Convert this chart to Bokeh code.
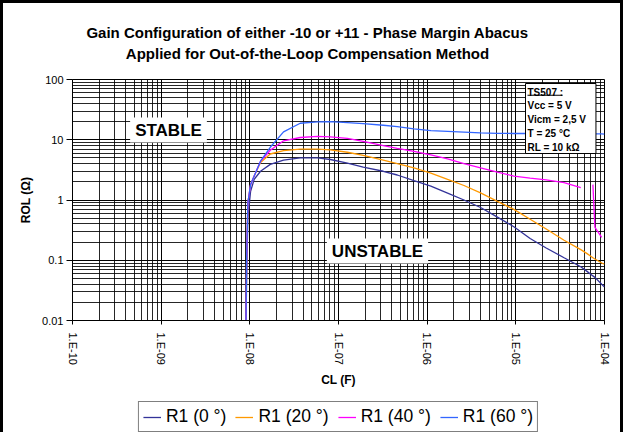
import math
from bokeh.plotting import figure
from bokeh.layouts import column
from bokeh.models import (FixedTicker, Label, Legend, LegendItem, BoxAnnotation,
                          Range1d, CustomJSTickFormatter, ColumnDataSource)
from bokeh.embed import file_html
from bokeh.resources import INLINE

# ---------------- data ----------------
title_lines = ["Gain Configuration of either -10 or +11 - Phase Margin Abacus",
               "Applied for Out-of-the-Loop Compensation Method"]
x_label = "CL (F)"
y_label = "ROL (\u03a9)"
x_ticks = [1e-10, 1e-9, 1e-8, 1e-7, 1e-6, 1e-5, 1e-4]
x_tick_labels = ["1.E-10", "1.E-09", "1.E-08", "1.E-07", "1.E-06", "1.E-05", "1.E-04"]
y_ticks = [0.01, 0.1, 1, 10, 100]
y_tick_labels = ["0.01", "0.1", "1", "10", "100"]
series_names = ["R1 (0 \u00b0)", "R1 (20 \u00b0)", "R1 (40 \u00b0)", "R1 (60 \u00b0)"]
series_colors = ["#333399", "#FF9900", "#FF00FF", "#3366FF"]
info_lines = ["TS507 :", "Vcc = 5 V", "Vicm = 2,5 V", "T = 25 \u00b0C", "RL = 10 k\u03a9"]
region_labels = ["STABLE", "UNSTABLE"]

cl = [9.0e-9, 9.2e-9, 9.5e-9, 1.02e-8, 1.12e-8, 1.32e-8, 1.7e-8, 2.4e-8, 3.7e-8,
      5.8e-8, 8.1e-8, 1.26e-7, 1.9e-7, 3.2e-7, 4.6e-7, 7.1e-7, 1.1e-6, 1.7e-6,
      2.6e-6, 4.0e-6, 6.2e-6, 9.5e-6, 1.45e-5, 2.2e-5, 3.5e-5, 5.4e-5, 6.3e-5,
      7.4e-5, 7.8e-5, 9.3e-5, 1.0e-4]
nan = float("nan")
rol_0 = [0.004, 0.05, 0.5, 1.4, 2.2, 3.0, 3.9, 4.6, 5.0, 5.0, 4.7, 4.1, 3.5, 3.0,
         2.6, 2.1, 1.7, 1.3, 1.0, 0.75, 0.52, 0.36, 0.23, 0.16, 0.11, 0.078,
         0.066, 0.055, 0.052, 0.040, 0.036]
rol_20 = [0.004, 0.1, 0.9, 1.8, 2.5, 4.2, 5.8, 6.6, 7.0, 7.0, 6.8, 6.2, 5.5, 4.6,
          4.0, 3.4, 2.8, 2.2, 1.74, 1.31, 0.95, 0.70, 0.48, 0.33, 0.215, 0.15,
          0.13, 0.11, 0.105, 0.09, 0.086]
rol_40 = [0.004, 0.1, 0.9, 1.8, 2.5, 4.4, 6.7, 9.6, 10.9, 11.4, 11.2, 10.5, 9.4,
          8.0, 7.2, 6.4, 5.6, 4.8, 4.0, 3.4, 2.9, 2.5, 2.3, 2.15, 1.95, 1.6, nan,
          1.8, 0.35, 0.24, nan]
rol_60 = [0.004, 0.1, 0.9, 1.8, 2.5, 4.4, 7.5, 13.5, 18.8, 19.8, 20.0, 19.2, 18.5,
          17.4, 16.5, 15.2, 14.2, 13.8, 13.4, 13.0, 12.8, 12.7, 12.7, 12.7, 12.6,
          12.6, 12.5, 12.5, 12.5, 12.5, 12.4]
series_values = [rol_0, rol_20, rol_40, rol_60]

FONT = "Liberation Sans"
BORDER = "3px solid black"
W = 623
BW = 3   # border width; canvases start BW px inside the left/top border

# ---------------- layout helpers (page pixel -> data of main plot) ----------------
FRAME_L, FRAME_R, FRAME_T, FRAME_B = 72, 604, 79, 320
MB_L = FRAME_L - BW          # min border left (canvas coords)
MB_R = W - (FRAME_R - BW)    # min border right
def data_x(px):
    return 10 ** (-10 + 6 * (px - FRAME_L) / (FRAME_R - FRAME_L))
def data_y(py):
    return 10 ** (-2 + 4 * (FRAME_B - py) / (FRAME_B - FRAME_T))

def bare_fig(height):
    f = figure(width=W, height=height, x_range=Range1d(0, 1), y_range=Range1d(1e3, 2e3),
               output_backend="svg", toolbar_location=None, title=None,
               x_axis_location=None, y_axis_location=None,
               min_border_left=MB_L, min_border_right=MB_R,
               min_border_top=0, min_border_bottom=0)
    f.grid.visible = False
    f.outline_line_color = None
    f.background_fill_color = "white"
    f.border_fill_color = "white"
    return f

# ---------------- title strip (page y 0..70) ----------------
TH = 70
tf = bare_fig(TH)
tf.styles = {"border-left": BORDER, "border-top": BORDER, "border-right": BORDER}
for i, t in enumerate(title_lines):
    cy = 32 + 21 * i                      # page y of line centre
    tf.add_layout(Label(x=307 - FRAME_L, y=TH + BW - cy, x_units="screen", y_units="screen",
                        text=t, text_align="center", text_baseline="middle",
                        text_font=FONT, text_font_style="bold",
                        text_font_size="15px", text_color="black"))

# ---------------- main plot (page y 70..392) ----------------
MH = 322
p = figure(width=W, height=MH, x_axis_type="log", y_axis_type="log",
           x_range=Range1d(1e-10, 1e-4), y_range=Range1d(0.01, 100),
           output_backend="svg", toolbar_location=None, title=None,
           min_border_left=MB_L, min_border_right=MB_R,
           min_border_top=FRAME_T - TH, min_border_bottom=(TH + MH) - FRAME_B)
p.styles = {"border-left": BORDER, "border-right": BORDER}
p.background_fill_color = "white"
p.border_fill_color = "white"
p.outline_line_color = "black"

x_minor = [m * 10.0 ** e for e in range(-10, -4) for m in range(2, 10)]
y_minor = [m * 10.0 ** e for e in range(-2, 2) for m in range(2, 10)]
xt = FixedTicker(ticks=x_ticks, minor_ticks=x_minor)
yt = FixedTicker(ticks=y_ticks, minor_ticks=y_minor)
p.xaxis.ticker = xt
p.yaxis.ticker = yt
p.xgrid.ticker = xt
p.ygrid.ticker = yt

fmt_code = """
let best = 0, bd = 1e9;
for (let i = 0; i < tvals.length; i++) {
  const d = Math.abs(Math.log10(tick) - Math.log10(tvals[i]));
  if (d < bd) { bd = d; best = i; }
}
return tlabels[best];
"""
p.xaxis.formatter = CustomJSTickFormatter(args=dict(tvals=x_ticks, tlabels=x_tick_labels), code=fmt_code)
p.yaxis.formatter = CustomJSTickFormatter(args=dict(tvals=y_ticks, tlabels=y_tick_labels), code=fmt_code)

for g in (p.xgrid, p.ygrid):
    g.grid_line_color = "black"
    g.grid_line_width = 1
    g.minor_grid_line_color = "black"
    g.minor_grid_line_width = 1
    g.minor_grid_line_alpha = 0.85

for ax in (p.xaxis, p.yaxis):
    ax.axis_line_color = "black"
    ax.major_tick_line_color = "black"
    ax.minor_tick_line_color = None
    ax.major_tick_in = 0
    ax.major_label_text_font = FONT
    ax.major_label_text_font_size = "11px"
    ax.major_label_text_color = "black"
    ax.axis_label_text_font = FONT
    ax.axis_label_text_font_size = "12px"
    ax.axis_label_text_font_style = "bold"
    ax.axis_label_text_color = "black"

p.xaxis.axis_label = x_label
p.yaxis.axis_label = y_label
p.xaxis.major_label_orientation = "vertical"
p.xaxis.major_tick_out = 4
p.xaxis.major_label_standoff = 8
p.xaxis.axis_label_standoff = 5
p.yaxis.major_tick_out = 6
p.yaxis.major_label_standoff = 3
p.yaxis.axis_label_standoff = 6

for vals, col in zip(series_values, series_colors):
    src = ColumnDataSource(dict(x=cl, y=vals))
    p.line("x", "y", source=src, line_color=col, line_width=1.3)

# region labels
for t, (cx, cy) in zip(region_labels, [(168, 129.5), (377, 250.5)]):
    p.add_layout(Label(x=data_x(cx), y=data_y(cy), text=t,
                       text_align="center", text_baseline="middle",
                       text_font=FONT, text_font_style="bold",
                       text_font_size="17px", text_color="black",
                       background_fill_color="white", background_fill_alpha=1,
                       padding=dict(left=5, right=5, top=3, bottom=3)))

# info box
p.add_layout(Label(x=data_x(525), y=data_y(83), text="\n".join(info_lines),
                   anchor="top_left", text_align="left", text_baseline="top",
                   text_font=FONT, text_font_style="bold", text_font_size="10px",
                   text_line_height=1.25, text_color="black",
                   background_fill_color="white", background_fill_alpha=1,
                   border_line_color="black", border_line_width=1,
                   padding=dict(left=2, right=10, top=3, bottom=1)))
p.add_layout(BoxAnnotation(left=data_x(527), right=data_x(562),
                           top=data_y(94.3), bottom=data_y(95.3),
                           fill_color="black", fill_alpha=1, line_color=None))

# ---------------- legend strip (page y 392..432) ----------------
LH = 432 - TH - MH
lf = bare_fig(LH)
lf.styles = {"border-left": BORDER, "border-right": BORDER}
leg_r = []
for vals, col in zip(series_values, series_colors):
    src = ColumnDataSource(dict(x=cl, y=vals))
    leg_r.append(lf.line("x", "y", source=src, line_color=col, line_width=1.3))
legend = Legend(items=[LegendItem(label=n, renderers=[r]) for n, r in zip(series_names, leg_r)],
                orientation="horizontal", location="bottom_center",
                border_line_color="black", border_line_width=1,
                background_fill_color="white", background_fill_alpha=1,
                label_text_font=FONT, label_text_font_size="17.5px",
                label_text_color="black",
                padding=4, spacing=9, glyph_width=18, glyph_height=16,
                label_standoff=5, label_height=19, margin=0)
lf.add_layout(legend)

layout = column(tf, p, lf, spacing=0)
open("out.html", "w").write(file_html(layout, INLINE))
